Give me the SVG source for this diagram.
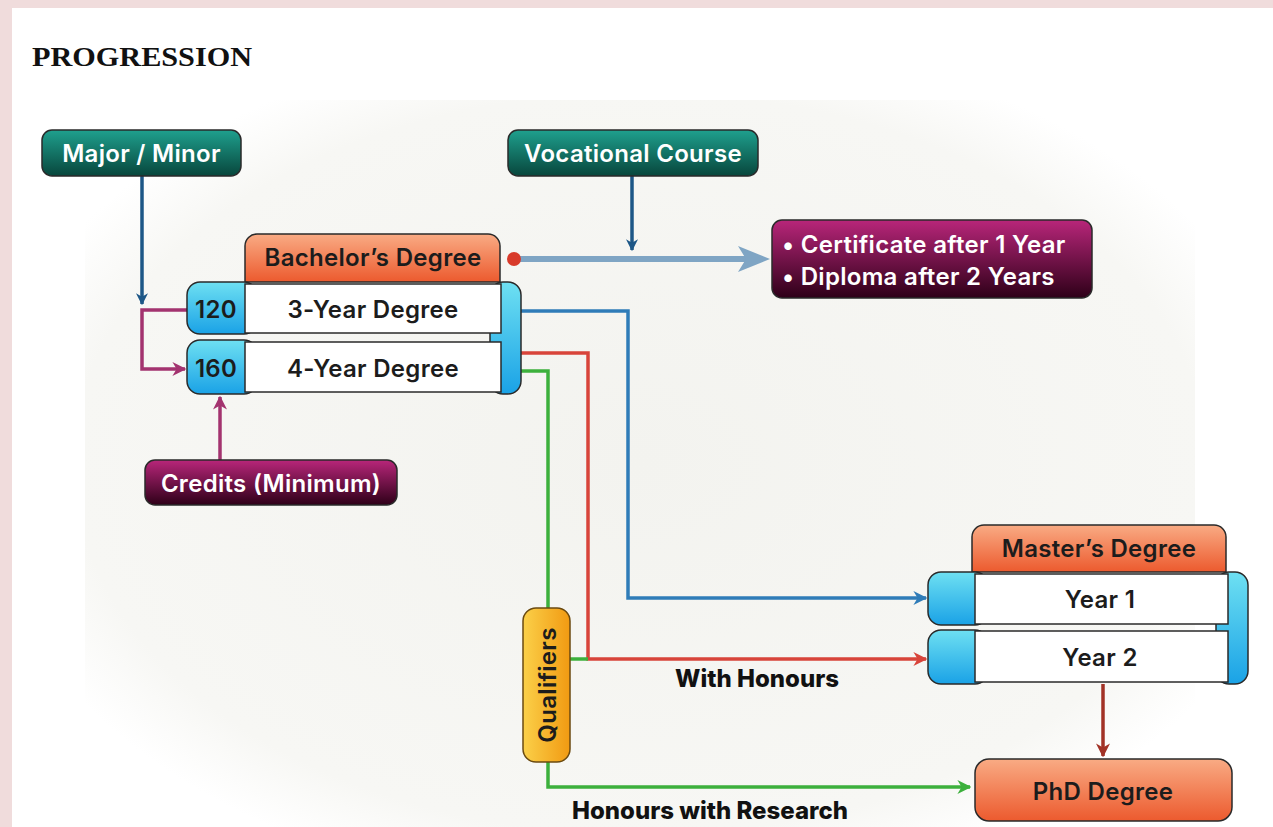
<svg xmlns="http://www.w3.org/2000/svg" width="1273" height="827" viewBox="0 0 1273 827">
<defs>
<linearGradient id="teal" x1="0" y1="0" x2="0" y2="1"><stop offset="0" stop-color="#1fa08e"/><stop offset="1" stop-color="#08463c"/></linearGradient>
<linearGradient id="mag" x1="0" y1="0" x2="0" y2="1"><stop offset="0" stop-color="#b8267a"/><stop offset="1" stop-color="#2e0018"/></linearGradient>
<linearGradient id="org" x1="0" y1="0" x2="0" y2="1"><stop offset="0" stop-color="#f9ab84"/><stop offset="1" stop-color="#ec5a2e"/></linearGradient>
<linearGradient id="blu" x1="0" y1="0" x2="0" y2="1"><stop offset="0" stop-color="#6ee0f2"/><stop offset="1" stop-color="#1aa2e6"/></linearGradient>
<linearGradient id="yel" x1="0" y1="0" x2="1" y2="0"><stop offset="0" stop-color="#fbd049"/><stop offset="1" stop-color="#f19a12"/></linearGradient>
<radialGradient id="bg" cx="0.5" cy="0.5" r="0.6"><stop offset="0" stop-color="#f3f3ef"/><stop offset="0.85" stop-color="#f7f7f4"/><stop offset="1" stop-color="#ffffff"/></radialGradient>
<marker id="aDB" viewBox="0 0 10 10" refX="9" refY="5" markerWidth="12" markerHeight="12" markerUnits="userSpaceOnUse" orient="auto"><path d="M0,0 L10,5 L0,10 L3,5 z" fill="#1d5787"/></marker>
<marker id="aB" viewBox="0 0 10 10" refX="9" refY="5" markerWidth="14" markerHeight="14" markerUnits="userSpaceOnUse" orient="auto"><path d="M0,0 L10,5 L0,10 L3,5 z" fill="#2f7cb8"/></marker>
<marker id="aR" viewBox="0 0 10 10" refX="9" refY="5" markerWidth="14" markerHeight="14" markerUnits="userSpaceOnUse" orient="auto"><path d="M0,0 L10,5 L0,10 L3,5 z" fill="#d8443a"/></marker>
<marker id="aG" viewBox="0 0 10 10" refX="9" refY="5" markerWidth="14" markerHeight="14" markerUnits="userSpaceOnUse" orient="auto"><path d="M0,0 L10,5 L0,10 L3,5 z" fill="#3cb03c"/></marker>
<marker id="aP" viewBox="0 0 10 10" refX="9" refY="5" markerWidth="14" markerHeight="14" markerUnits="userSpaceOnUse" orient="auto"><path d="M0,0 L10,5 L0,10 L3,5 z" fill="#a3336f"/></marker>
<marker id="aBR" viewBox="0 0 10 10" refX="9" refY="5" markerWidth="14" markerHeight="14" markerUnits="userSpaceOnUse" orient="auto"><path d="M0,0 L10,5 L0,10 L3,5 z" fill="#a23226"/></marker>
</defs>
<style>
.t{font-family:Inter,"Open Sans","Liberation Sans",sans-serif;font-weight:600;letter-spacing:0.3px;}
.w{fill:#ffffff;font-size:24px;}
.d{fill:#1c1c1c;font-size:24px;}
.lbl{font-family:Inter,"Liberation Sans",sans-serif;font-weight:800;font-size:24px;fill:#111;}
.st{stroke:#2a2a2a;stroke-width:1.5;}
.ln{fill:none;stroke-width:3.5;}
</style>
<rect width="1273" height="827" fill="#ffffff"/>
<rect x="0" y="0" width="1273" height="8" fill="#f0dcdc"/>
<rect x="0" y="0" width="12" height="827" fill="#f0dcdc"/>
<rect x="85" y="100" width="1110" height="727" fill="url(#bg)"/>
<text x="32" y="66" font-family="'Liberation Serif',serif" font-weight="bold" font-size="28" textLength="220" lengthAdjust="spacingAndGlyphs" fill="#111">PROGRESSION</text>

<g id="connectors">
<path class="ln" d="M142,176 V304" stroke="#1d5787" marker-end="url(#aDB)"/>
<path class="ln" d="M187,310 H142 V369 H185" stroke="#a3336f" marker-end="url(#aP)"/>
<path class="ln" d="M220,460 V397" stroke="#a3336f" marker-end="url(#aP)"/>
<path class="ln" d="M632,176 V250" stroke="#1d5787" marker-end="url(#aDB)"/>
<path d="M520,259 H748" fill="none" stroke="#7fa5c4" stroke-width="6"/>
<polygon points="738,246 770,259 738,272 746,259" fill="#7fa5c4"/>
<circle cx="514" cy="259" r="7" fill="#d83a2a"/>
<path class="ln" d="M521,311 H628 V598 H926" stroke="#2f7cb8" marker-end="url(#aB)"/>
<path class="ln" d="M521,353 H588 V659 H926" stroke="#d8443a" marker-end="url(#aR)"/>
<path class="ln" d="M521,371 H548 V608" stroke="#3cb03c"/>
<path class="ln" d="M570,659 H588" stroke="#3cb03c"/>
<path class="ln" d="M548,762 V787 H970" stroke="#3cb03c" marker-end="url(#aG)"/>
<path class="ln" d="M1103,684 V756" stroke="#a23226" marker-end="url(#aBR)"/>
</g>

<g id="major-minor">
<rect x="42" y="130" width="199" height="46" rx="10" fill="url(#teal)" class="st"/>
<text x="141.5" y="162" text-anchor="middle" class="t w">Major / Minor</text>
</g>
<g id="vocational">
<rect x="508" y="130" width="250" height="46" rx="10" fill="url(#teal)" class="st"/>
<text x="633" y="162" text-anchor="middle" class="t w">Vocational Course</text>
</g>
<g id="certificate">
<rect x="772" y="220" width="320" height="78" rx="10" fill="url(#mag)" class="st"/>
<text x="782" y="253" class="t w">• Certificate after 1 Year</text>
<text x="782" y="285" class="t w">• Diploma after 2 Years</text>
</g>
<g id="credits">
<rect x="145" y="460" width="252" height="45" rx="10" fill="url(#mag)" class="st"/>
<text x="271" y="492" text-anchor="middle" class="t w">Credits (Minimum)</text>
</g>

<g id="bachelor">
<path d="M245,282 V246 a12,12 0 0 1 12,-12 H488 a12,12 0 0 1 12,12 V282 z" fill="url(#org)" class="st"/>
<text x="373" y="266" text-anchor="middle" class="t d">Bachelor’s Degree</text>
<rect x="490" y="282" width="31" height="112" rx="13" fill="url(#blu)" class="st"/>
<rect x="187" y="282" width="70" height="52" rx="13" fill="url(#blu)" class="st"/>
<rect x="187" y="340" width="70" height="54" rx="13" fill="url(#blu)" class="st"/>
<rect x="245" y="284" width="256" height="49" fill="#ffffff" class="st"/>
<rect x="245" y="342" width="256" height="50" fill="#ffffff" class="st"/>
<text x="216" y="318" text-anchor="middle" class="t d" font-size="26" font-weight="700">120</text>
<text x="216" y="377" text-anchor="middle" class="t d" font-size="26" font-weight="700">160</text>
<text x="373" y="318" text-anchor="middle" class="t d">3-Year Degree</text>
<text x="373" y="377" text-anchor="middle" class="t d">4-Year Degree</text>
</g>

<g id="qualifiers">
<rect x="523" y="608" width="47" height="154" rx="13" fill="url(#yel)" stroke="#6b4a10" stroke-width="1.5"/>
<text x="0" y="0" transform="translate(556,685) rotate(-90)" text-anchor="middle" class="t d" font-weight="700" fill="#3a2a10">Qualifiers</text>
</g>
<text x="757" y="687" text-anchor="middle" class="lbl">With Honours</text>
<text x="710" y="819" text-anchor="middle" class="lbl">Honours with Research</text>

<g id="master">
<path d="M972,572 V537 a12,12 0 0 1 12,-12 H1214 a12,12 0 0 1 12,12 V572 z" fill="url(#org)" class="st"/>
<text x="1099" y="557" text-anchor="middle" class="t d">Master’s Degree</text>
<rect x="1216" y="572" width="32" height="112" rx="13" fill="url(#blu)" class="st"/>
<rect x="928" y="572" width="60" height="53" rx="13" fill="url(#blu)" class="st"/>
<rect x="928" y="630" width="60" height="54" rx="13" fill="url(#blu)" class="st"/>
<rect x="975" y="574" width="253" height="50" fill="#ffffff" class="st"/>
<rect x="975" y="631" width="253" height="51" fill="#ffffff" class="st"/>
<text x="1100" y="608" text-anchor="middle" class="t d">Year 1</text>
<text x="1100" y="666" text-anchor="middle" class="t d">Year 2</text>
</g>
<g id="phd">
<rect x="975" y="759" width="257" height="62" rx="14" fill="url(#org)" class="st"/>
<text x="1103" y="800" text-anchor="middle" class="t d">PhD Degree</text>
</g>
</svg>
